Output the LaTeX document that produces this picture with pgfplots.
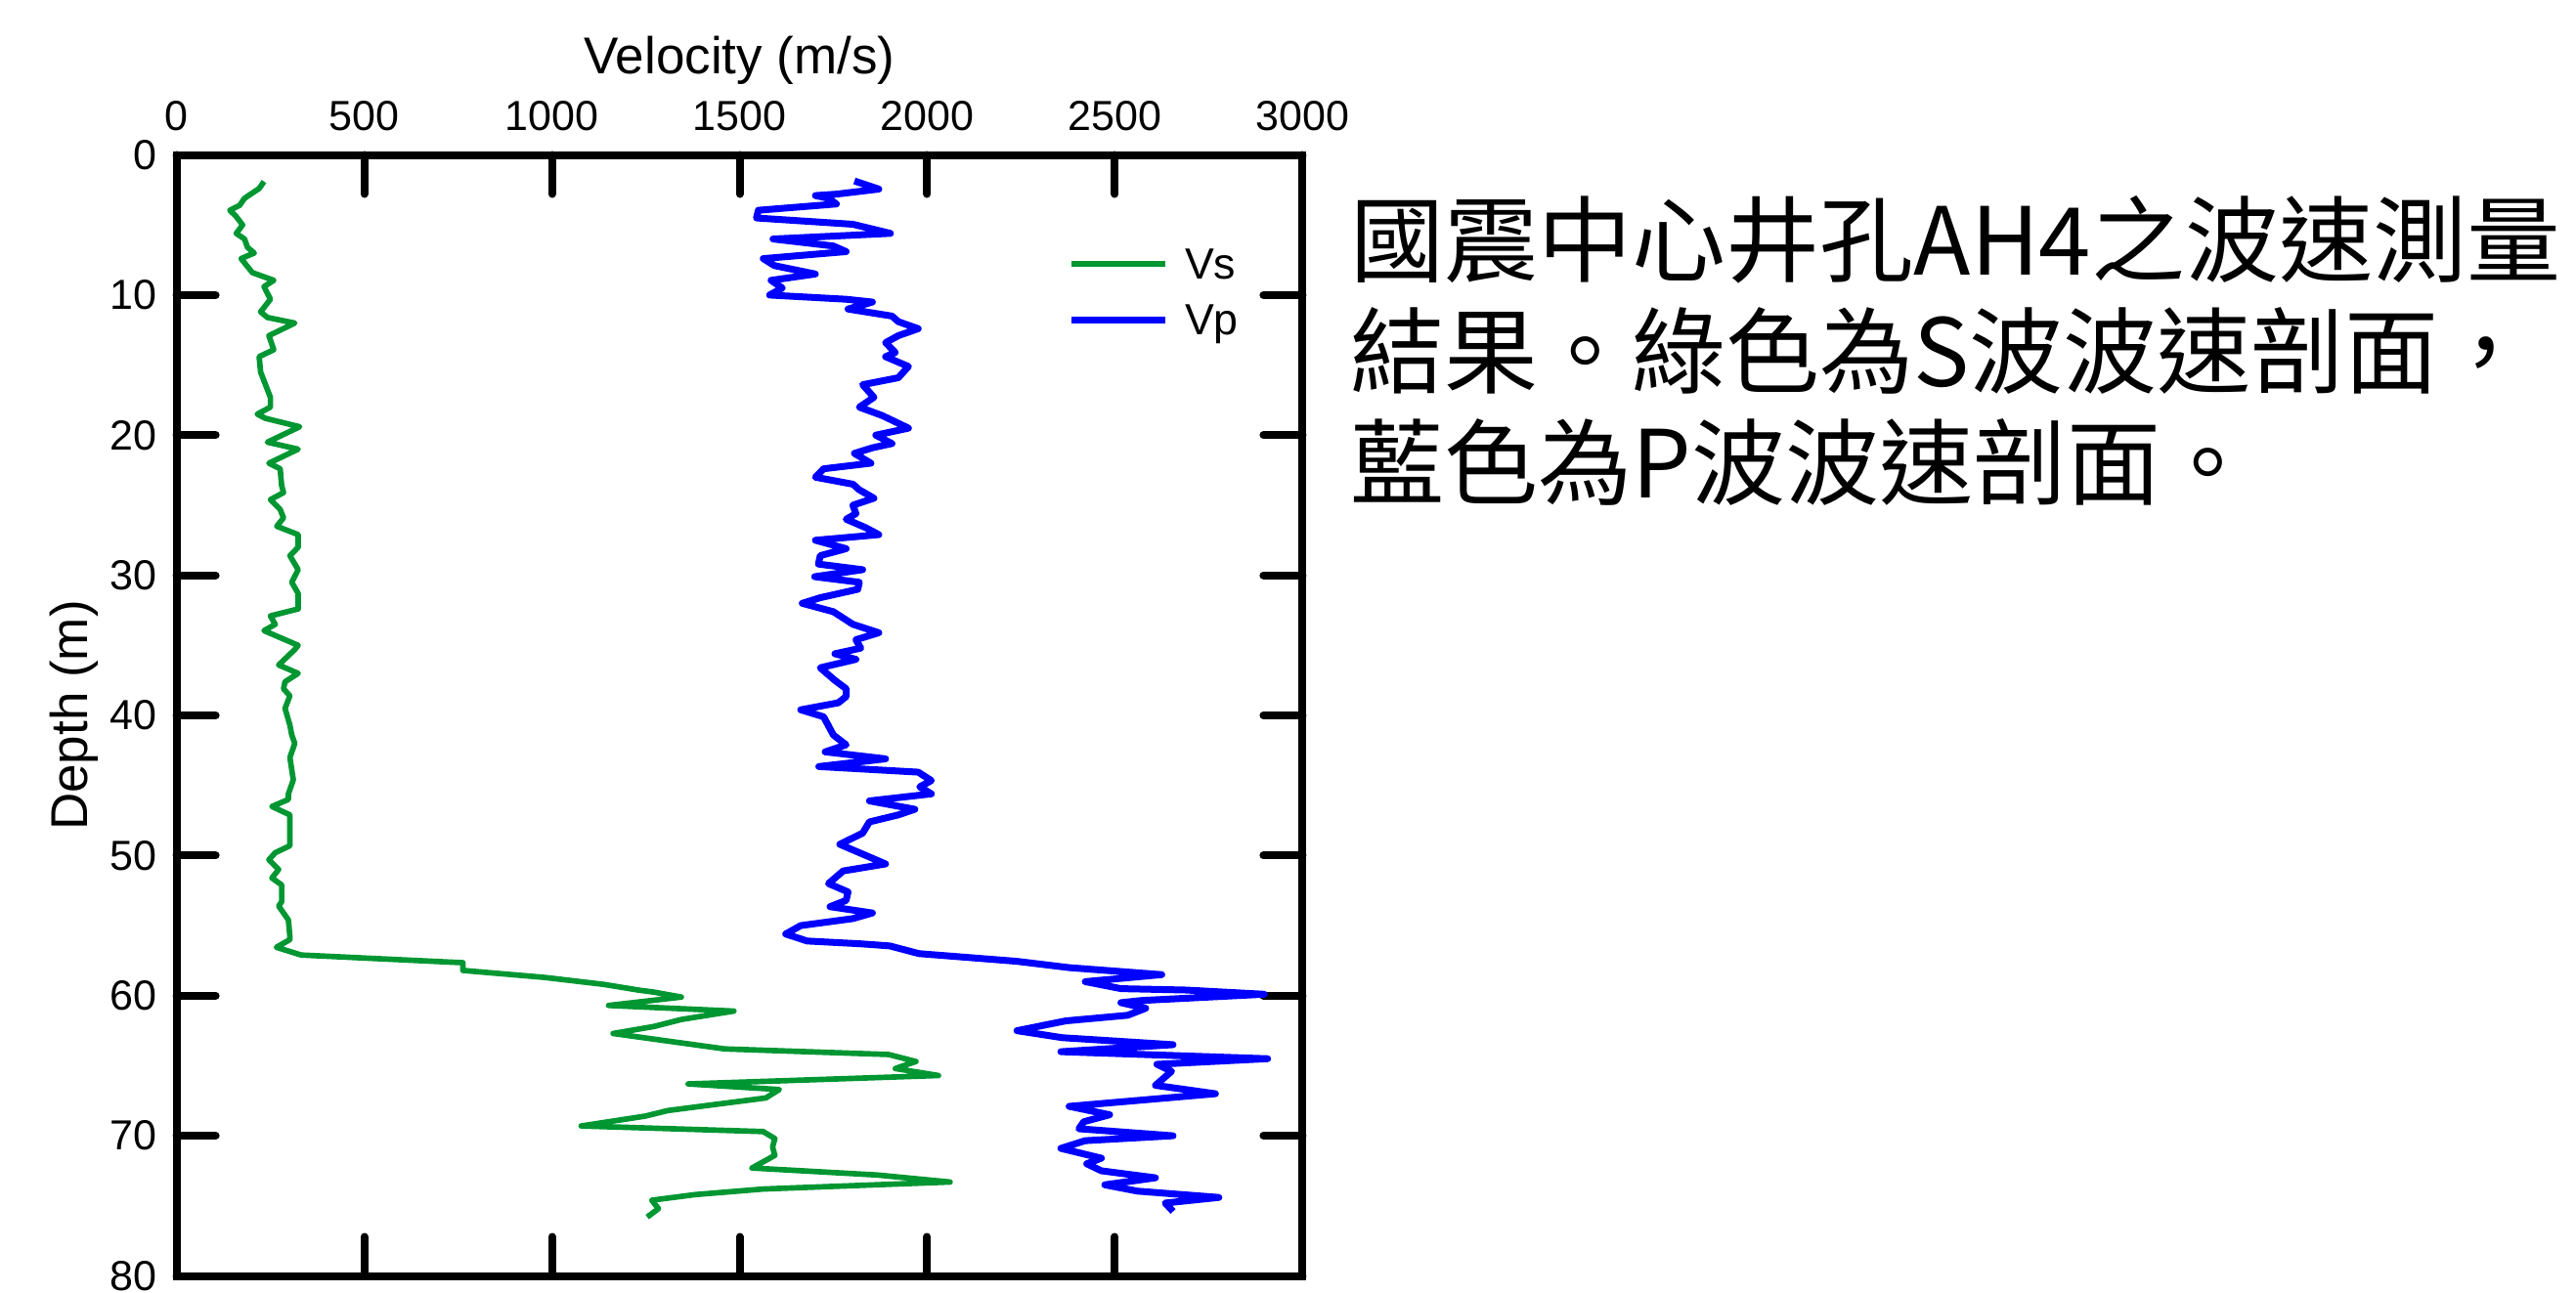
\documentclass[border=0pt]{standalone}
\usepackage{pgfplots}
\pgfplotsset{compat=1.18}
\usepackage{fontspec}
\setmainfont{Liberation Sans}
\newfontfamily\cjk{Noto Sans CJK TC}
\definecolor{vsgreen}{RGB}{0,150,50}
\definecolor{vpblue}{RGB}{0,0,255}
\begin{document}
\begin{tikzpicture}
\useasboundingbox (0,0) rectangle (790.5pt,396.6pt);
\begin{axis}[
 at={(226.95pt,177pt)}, anchor=center,
 scale only axis, width=345.54pt, height=344.1pt,
 xmin=0, xmax=3000, ymin=0, ymax=80, y dir=reverse,
 xtick={0,500,...,3000}, ytick={0,10,...,80},
 xticklabel pos=right,
 clip=false,
 axis line style={line width=2.4pt, line join=miter},
 tick style={line width=2.4pt, black, line cap=round},
 major tick length=12pt,
 /pgf/number format/assume math mode=true,
 /pgf/number format/1000 sep={},
 ticklabel style={font=\fontsize{12.9}{15}\selectfont},
 xticklabel style={anchor=center, yshift=12pt},
 yticklabel style={anchor=east, inner sep=0pt, xshift=-5.9pt},
 legend style={at={(axis cs:2374,9.78)}, anchor=west, draw=none, fill=none, inner sep=0pt, row sep=8.1pt, column sep=5pt, nodes={inner sep=0pt, text depth=0pt}, font=\fontsize{13.4}{16}\selectfont},
 legend cell align=left,
 legend image code/.code={\draw[#1, line width=2pt] (0pt,0pt) -- (28.8pt,0pt);},
]
\addplot[vsgreen, line width=1.7pt, line join=round] coordinates {
(233,1.9) (220,2.4) (203,2.7) (181,3.1) (168,3.6) (142,3.95) (159,4.4) (176,5.0) (159,5.6) (181,6.0)
(189,6.6) (207,7.0) (172,7.4) (202,8.4) (259,8.95) (233,9.4) (250,10.3) (224,11.2) (242,11.6) (315,12.0)
(246,12.9) (259,13.9) (220,14.4) (224,15.5) (237,16.4) (250,17.3) (250,18.0) (215,18.5) (237,18.8) (328,19.4)
(242,20.5) (324,21.0) (246,22.0) (276,22.4) (280,23.6) (285,24.1) (250,24.6) (276,25.3) (285,25.9) (267,26.5)
(324,27.1) (324,28.0) (302,28.6) (324,29.6) (307,30.5) (324,31.3) (324,32.4) (250,32.9) (263,33.5) (233,33.95)
(324,35.0) (315,35.3) (272,36.4) (324,37.0) (289,37.6) (285,38.1) (302,38.6) (289,39.5) (302,40.7) (307,41.4)
(315,42.0) (302,43.0) (311,44.6) (298,45.6) (298,46.0) (254,46.5) (302,47.1) (302,49.3) (263,49.8) (246,50.3)
(272,51.0) (254,51.6) (280,52.1) (280,53.3) (272,53.6) (298,54.6) (302,55.8) (302,56.0) (266,56.55) (332,57.1)
(763,57.65) (763,58.2) (981,58.7) (1139,59.2) (1230,59.6) (1272,59.75) (1345,60.1) (1151,60.7) (1485,61.1) (1345,61.7)
(1272,62.2) (1163,62.7) (1460,63.8) (1897,64.2) (1970,64.7) (1915,65.2) (2030,65.7) (1363,66.3) (1606,66.7) (1570,67.3)
(1309,68.2) (1248,68.6) (1078,69.3) (1563,69.7) (1594,70.2) (1588,70.8) (1594,71.4) (1533,72.3) (1867,72.8) (2061,73.3)
(1563,73.8) (1381,74.2) (1266,74.6) (1284,75.2) (1254,75.8)
};
\addlegendentry{Vs}
\addplot[vpblue, line width=2.1pt, line join=round] coordinates {
(1806,1.86) (1871,2.44) (1758,2.8) (1702,2.9) (1737,3.1) (1758,3.5) (1550,3.95) (1545,4.5) (1802,4.95) (1902,5.6)
(1589,6.0) (1750,6.5) (1784,6.9) (1563,7.4) (1593,7.9) (1702,8.5) (1584,8.95) (1614,9.5) (1580,10.0) (1784,10.3)
(1854,10.5) (1789,11.0) (1906,11.5) (1923,11.9) (1976,12.4) (1923,12.9) (1889,13.4) (1915,14.1) (1889,14.4) (1950,15.1)
(1923,15.9) (1828,16.4) (1858,17.3) (1819,18.0) (1880,18.6) (1950,19.5) (1863,20.0) (1906,20.6) (1854,20.9) (1806,21.3)
(1850,22.0) (1724,22.4) (1702,23.0) (1802,23.5) (1819,23.9) (1858,24.5) (1802,25.0) (1810,25.6) (1784,26.0) (1836,26.6)
(1871,27.1) (1702,27.5) (1784,28.1) (1715,28.6) (1710,29.2) (1828,29.6) (1700,30.1) (1819,30.5) (1815,31.0) (1715,31.6)
(1667,32.0) (1750,32.6) (1802,33.5) (1871,34.1) (1810,34.6) (1823,35.2) (1754,35.6) (1810,36.0) (1715,36.6) (1754,37.5)
(1784,38.1) (1784,38.65) (1763,39.1) (1663,39.6) (1724,40.1) (1750,41.4) (1784,42.1) (1728,42.6) (1889,43.1) (1711,43.65)
(1976,44.05) (2011,44.65) (1980,45.1) (2011,45.6) (1846,46.1) (1967,46.7) (1923,47.1) (1846,47.6) (1828,48.4) (1767,49.2)
(1828,49.9) (1889,50.6) (1776,51.1) (1737,52.0) (1789,52.6) (1784,53.2) (1741,53.65) (1854,54.1) (1802,54.5) (1663,55.0)
(1623,55.6) (1680,56.1) (1822,56.3) (1900,56.45) (1978,57.0) (2239,57.55) (2378,58.0) (2625,58.5) (2421,59.0) (2516,59.5)
(2690,59.6) (2898,59.9) (2569,60.35) (2516,60.5) (2582,60.9) (2534,61.4) (2369,61.8) (2239,62.5) (2360,63.0) (2655,63.5)
(2356,64.0) (2907,64.5) (2612,64.9) (2651,65.4) (2608,66.4) (2768,67.0) (2378,67.9) (2486,68.5) (2417,69.0) (2404,69.5)
(2655,70.0) (2421,70.35) (2356,70.9) (2464,71.6) (2425,72.0) (2464,72.5) (2608,73.0) (2473,73.5) (2560,73.95) (2777,74.4)
(2634,74.8) (2655,75.4)
};
\addlegendentry{Vp}
\node[font=\fontsize{15.9}{18}\selectfont] at (axis cs:1500,-6.72) {Velocity (m/s)};
\node[font=\fontsize{15.9}{18}\selectfont, rotate=90] at (axis cs:-272.6,40) {Depth (m)};
\end{axis}
\begin{scope}[every node/.style={anchor=base west, inner sep=0pt, font=\cjk\fontsize{28.8}{34}\selectfont}]
\node at (414.3pt,312pt) {國震中心井孔AH4之波速測量};
\node at (414.3pt,277.8pt) {結果。綠色為S波波速剖面，};
\node at (414.3pt,243.6pt) {藍色為P波波速剖面。};
\end{scope}
\end{tikzpicture}
\end{document}
